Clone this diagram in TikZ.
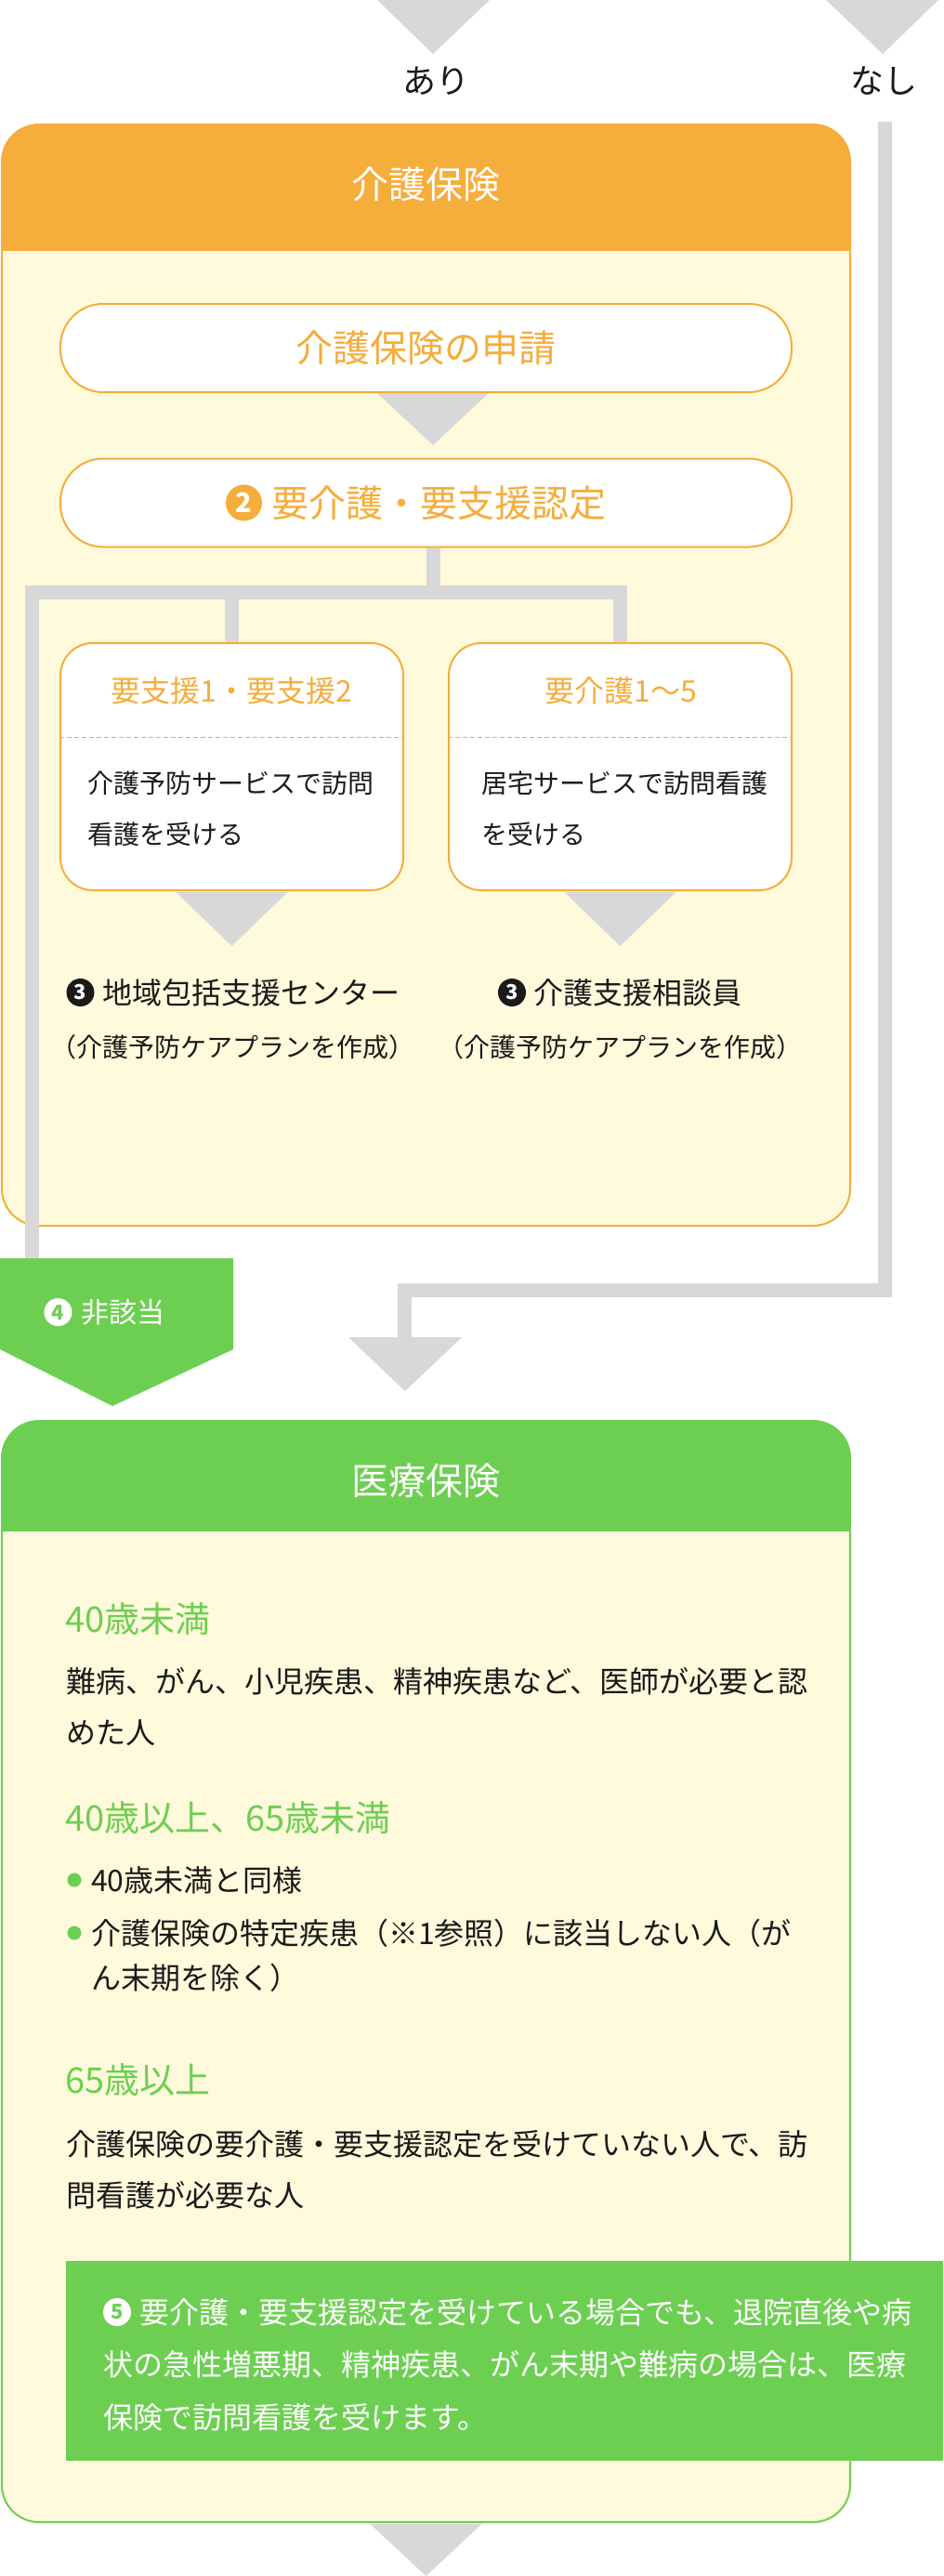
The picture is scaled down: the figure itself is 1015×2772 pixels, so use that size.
\documentclass[tikz,border=0pt]{standalone}
\usepackage{fontspec}
\setmainfont{Noto Sans CJK JP}
\definecolor{og}{HTML}{F5AD3B}
\definecolor{yl}{HTML}{FFFADB}
\definecolor{gr}{HTML}{6DCF52}
\definecolor{gl}{HTML}{D8D8D8}
\definecolor{tx}{HTML}{1A1A1A}
\newcommand\fz[2]{\fontsize{#1pt}{#2pt}\selectfont}
\begin{document}
\begin{tikzpicture}[x=1pt,y=-1pt,
  gline/.style={draw=gl, line width=15pt, line join=miter},
  box/.style={line width=2pt, fill=yl, rounded corners=40pt, minimum width=913pt, minimum height=1185pt, inner sep=0pt},
  pill/.style={draw=og, line width=2pt, fill=white, rounded corners=46pt, minimum width=787pt, minimum height=95pt, text=og, font=\fz{40}{48}, inner sep=0pt},
  card/.style={draw=og, line width=2pt, fill=white, rounded corners=35pt, minimum width=369pt, minimum height=266pt, inner sep=0pt},
  head/.style={text=white, font=\fz{40}{48}, inner sep=0pt},
  ctitle/.style={text=og, font=\fz{32}{40}, inner sep=0pt},
  cbody/.style={text=tx, font=\fz{28}{55}, align=left, anchor=west, inner sep=0pt},
  lbl/.style={text=tx, font=\fz{32}{40}, anchor=west, inner sep=0pt},
  plan/.style={text=tx, font=\fz{28}{36}, inner sep=0pt},
  ghead/.style={text=gr, font=\fz{38}{46}, anchor=west, inner sep=0pt},
  gbody/.style={text=tx, font=\fz{32}{55}, align=left, anchor=west, inner sep=0pt},
  dot/.style={circle, fill=gr, minimum size=15pt, inner sep=0pt},
  num/.style={circle, inner sep=0pt, minimum size=30pt, font=\bfseries\fz{22}{22}}
]
\useasboundingbox (0,0) rectangle (1015,2772);

% top arrows and labels
\fill[gl] (406,0) -- (527,0) -- (466,58) -- cycle;
\fill[gl] (889,0) -- (1010,0) -- (950,58) -- cycle;
\node[text=tx, font=\fz{36}{40}, inner sep=0pt] (ari) at (469,87) {あり};
\node[text=tx, font=\fz{36}{40}, inner sep=0pt] (nashi) at (951,87) {なし};

% care insurance container
\node[box, draw=og, path picture={\fill[og, sharp corners] (path picture bounding box.north west) rectangle ([yshift=-136pt]path picture bounding box.north east);}] (kaigo) at (458.5,726.5) {};
\node[head] (kaigoT) at (458,198) {介護保険};

% arrow between pills
\fill[gl] (406,423) -- (526,423) -- (466,479) -- cycle;
\node[pill] (apply) at (458.5,374.5) {介護保険の申請};
\node[pill] (cert) at (458.5,541) {};
\node[num, fill=og, text=white, minimum size=39pt, font=\bfseries\fz{29}{29}] (n2) at (262.5,541) {2};
\node[text=og, font=\fz{40}{48}, anchor=west, inner sep=0pt] (certT) at (292,541) {要介護・要支援認定};

% cards
\node[card] (shien) at (249.5,825) {};
\node[card] (kaigoL) at (667.5,825) {};
\draw[og, line width=1pt, dash pattern=on 5pt off 3pt] (shien.west |- 0,793) -- (shien.east |- 0,793);
\draw[og, line width=1pt, dash pattern=on 5pt off 3pt] (kaigoL.west |- 0,793) -- (kaigoL.east |- 0,793);
\node[ctitle] (shienT) at (249.5,743) {要支援1・要支援2};
\node[ctitle] (kaigoLT) at (668,743) {要介護1〜5};
\node[cbody] (shienB) at (94,870.5) {介護予防サービスで訪問\\看護を受ける};
\node[cbody] (kaigoLB) at (518,870.5) {居宅サービスで訪問看護\\を受ける};

% arrows below cards
\fill[gl] ([xshift=-60pt,yshift=-1pt]shien.south) -- ([xshift=60pt,yshift=-1pt]shien.south) -- ([yshift=-59pt]shien.south) -- cycle;
\fill[gl] ([xshift=-60pt,yshift=-1pt]kaigoL.south) -- ([xshift=60pt,yshift=-1pt]kaigoL.south) -- ([yshift=-59pt]kaigoL.south) -- cycle;

\node[num, fill=tx, text=white] (n3a) at (86.5,1068) {3};
\node[lbl] (center1) at (110,1068) {地域包括支援センター};
\node[plan] (plan1) at (250,1127) {（介護予防ケアプランを作成）};
\node[num, fill=tx, text=white] (n3b) at (551,1068) {3};
\node[lbl] (center2) at (574,1068) {介護支援相談員};
\node[plan] (plan2) at (667,1127) {（介護予防ケアプランを作成）};

% branching connectors
\coordinate (hb) at (466,637.5);
\draw[gline] ([xshift=7.5pt]cert.south) -- (hb);
\draw[gline] (shien.north |- hb) -- (shien.north);
\draw[gline] (34.5,1354) -- (34.5,637.5) -- (kaigoL.north |- hb) -- (kaigoL.north);

% not applicable
\fill[gr] (0,1354) -- (251,1354) -- (251,1452) -- (121,1513) -- (0,1452) -- cycle;
\node[num, fill=white, text=gr] (n4) at (62.5,1412) {4};
\node[text=white, font=\fz{30}{36}, anchor=west, inner sep=0pt] (gaitou) at (87,1412) {非該当};

% "none" connector
\draw[gline] (952.5,131) -- (952.5,1388.5) -- (435.5,1388.5) -- (435.5,1439);
\fill[gl] (375,1439) -- (497,1439) -- (436,1497) -- cycle;

% medical insurance container
\node[box, draw=gr, path picture={\fill[gr, sharp corners] (path picture bounding box.north west) rectangle ([yshift=-119pt]path picture bounding box.north east);}] (iryo) at (458.5,2121.5) {};
\node[head] (iryoT) at (458,1593) {医療保険};

\node[ghead] (h1) at (70,1742) {40歳未満};
\node[gbody] (p1) at (71,1836.5) {難病、がん、小児疾患、精神疾患など、医師が必要と認\\めた人};
\node[ghead] (h2) at (70,1956) {40歳以上、65歳未満};
\node[dot] (b1) at (80,2023) {};
\node[gbody] (p2) at (98,2023) {40歳未満と同様};
\node[dot] (b2) at (80,2080) {};
\node[gbody, font=\fz{32}{48}] (p3) at (98,2104) {介護保険の特定疾患（※1参照）に該当しない人（が\\ん末期を除く）};
\node[ghead] (h3) at (70,2238) {65歳以上};
\node[gbody] (p4) at (71,2335) {介護保険の要介護・要支援認定を受けていない人で、訪\\問看護が必要な人};

% note
\node[fill=gr, minimum width=944pt, minimum height=215pt, anchor=north west, inner sep=0pt] (note) at (71,2433) {};
\node[text=white, font=\fz{32}{56.5}, align=left, anchor=west, inner sep=0pt] (noteT) at (111,2544.5) {\hspace*{39pt}要介護・要支援認定を受けている場合でも、退院直後や病\\状の急性増悪期、精神疾患、がん末期や難病の場合は、医療\\保険で訪問看護を受けます。};
\node[num, fill=white, text=gr] (n5) at (126,2488) {5};

% bottom arrow
\fill[gl] ([xshift=-60pt,yshift=-1pt]iryo.south) -- ([xshift=60pt,yshift=-1pt]iryo.south) -- ([yshift=-57pt]iryo.south) -- cycle;
\end{tikzpicture}
\end{document}
